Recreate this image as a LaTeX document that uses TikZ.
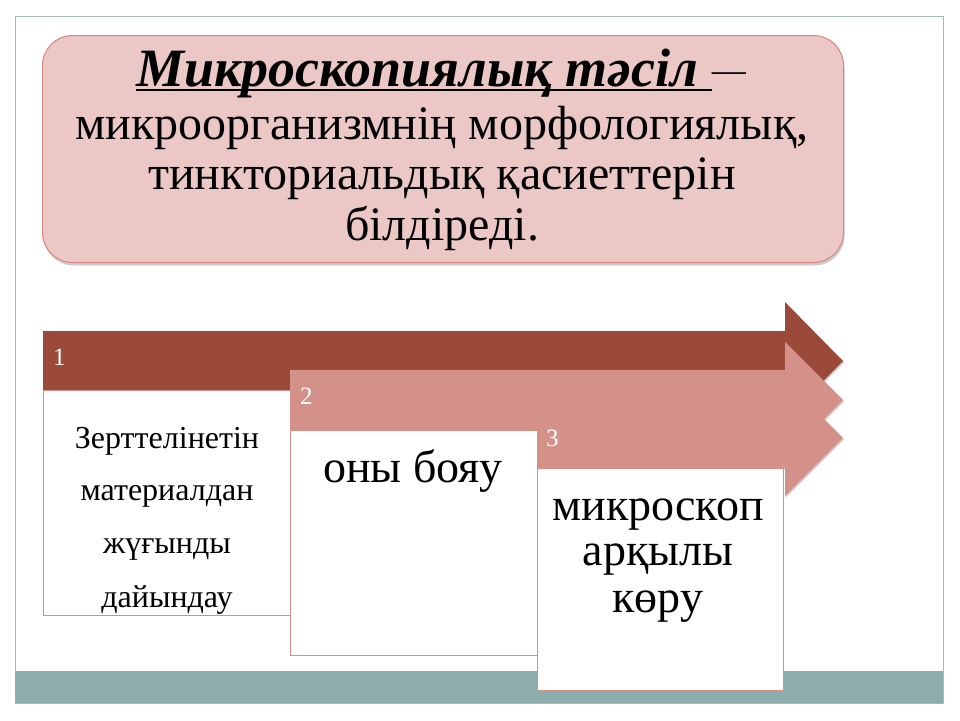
\documentclass[tikz,border=0pt]{standalone}
\usepackage{fontspec}
\setmainfont{Liberation Serif}
\usetikzlibrary{shadows}
\definecolor{frameline}{HTML}{A3BCBC}
\definecolor{tealbar}{HTML}{8DADAD}
\definecolor{titlefill}{HTML}{EBC8C6}
\definecolor{titleedge}{HTML}{D8857A}
\definecolor{darkarrow}{HTML}{9B4A3A}
\definecolor{pinkarrow}{HTML}{D4918A}
\definecolor{boxedge}{HTML}{D98E84}
\newcommand\kzul[1]{\setbox0\hbox{#1}\rlap{\rule[-4.5pt]{\wd0}{2pt}}\box0}
\begin{document}
\begin{tikzpicture}[x=1pt,y=-1pt,
  arrowshape/.style={draw=none, drop shadow={shadow xshift=1.2pt, shadow yshift=-1.5pt, opacity=0.35}},
  stepbox/.style={draw=boxedge, fill=white, line width=0.8pt, minimum width=247pt, minimum height=225pt, anchor=north west, inner sep=0pt},
  numlabel/.style={text=white, font=\fontsize{25}{25}\selectfont, anchor=base west, inner sep=0pt},
  titleline/.style={anchor=base, inner sep=0pt, font=\fontsize{48}{50}\selectfont},
  smalltext/.style={anchor=base, inner sep=0pt, font=\fontsize{32}{36}\selectfont},
  bigtext/.style={anchor=base, inner sep=0pt, font=\fontsize{46}{50}\selectfont}]
\useasboundingbox (0,0) rectangle (960,720);
\fill[white] (0,0) rectangle (960,720);
% slide frame and bottom bar
\draw[frameline, line width=1pt] (15,16) rectangle (943,703);
\fill[tealbar] (15,671) rectangle (943,703);
% title box
\node[draw=titleedge, fill=titlefill, line width=1pt, rounded corners=30pt,
  minimum width=801pt, minimum height=227pt, anchor=north west, inner sep=0pt,
  drop shadow={shadow xshift=1pt, shadow yshift=-3pt, opacity=0.4}] (title) at (42,35) {};
\node[titleline, font=\fontsize{54}{50}\selectfont] (t1) at (441,86) {\kzul{\textbf{\textit{Микроскопиялық тәсіл\ }}}\raisebox{5pt}{\fontsize{34}{34}\selectfont —}};
\node[titleline] (t2) at (442,139) {микроорганизмнің морфологиялық,};
\node[titleline] (t3) at (442,189) {тинкториальдық қасиеттерін};
\node[titleline] (t4) at (442,240) {білдіреді.};
% arrow 1
\fill[darkarrow, arrowshape] (43,331) -- (785,331) -- (785,302) -- (843,361) -- (785,420) -- (785,390) -- (43,390) -- cycle;
\node[numlabel] (n1) at (53,365) {1};
% box 1
\node[stepbox] (b1) at (43,390) {};
\node[smalltext] (b1a) at (167,448) {Зерттелінетін};
\node[smalltext] (b1b) at (167,500) {материалдан};
\node[smalltext] (b1c) at (167,553) {жүғынды};
\node[smalltext] (b1d) at (167,607) {дайындау};
% arrow 2
\fill[pinkarrow, arrowshape] (290,370) -- (785,370) -- (785,342) -- (843,400) -- (785,458) -- (785,430) -- (290,430) -- cycle;
\node[numlabel] (n2) at (300,404) {2};
% box 2
\node[stepbox] (b2) at (290,430) {};
\node[bigtext] (b2a) at (413,482) {оны бояу};
% arrow 3
\fill[pinkarrow, arrowshape] (537,408) -- (785,408) -- (785,380) -- (843,438) -- (785,496) -- (785,468) -- (537,468) -- cycle;
\node[numlabel] (n3) at (546,446) {3};
% box 3
\node[stepbox, minimum width=246pt, minimum height=222pt] (b3) at (537,468) {};
\node[bigtext] (b3a) at (658,520) {микроскоп};
\node[bigtext] (b3b) at (658,565) {арқылы};
\node[bigtext] (b3c) at (658,612) {көру};
\end{tikzpicture}
\end{document}
